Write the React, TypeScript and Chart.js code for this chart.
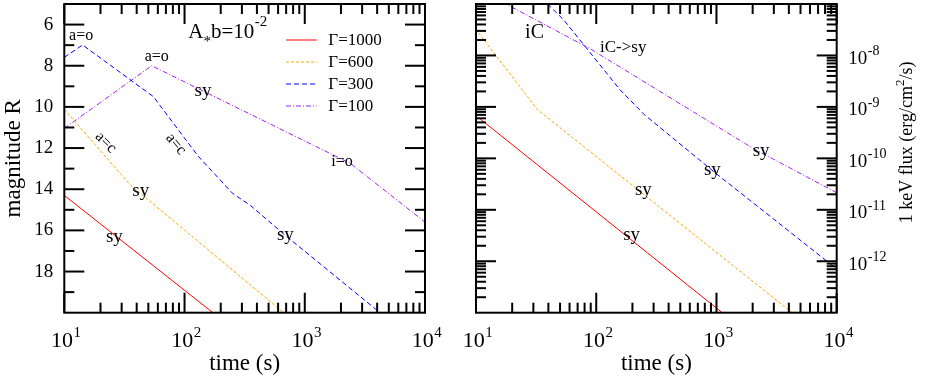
import React, { useEffect, useRef } from "react";
import { Chart, registerables } from "chart.js";

Chart.register(...registerables);
Chart.defaults.color = "#000";

// ---------------- data ----------------
// shared
const seriesLabels = ["Γ=1000", "Γ=600", "Γ=300", "Γ=100"];
const timeTicks = [10, 100, 1000, 10000];
const magTicks = [6, 8, 10, 12, 14, 16, 18];
const fluxTicks = [1e-12, 1e-11, 1e-10, 1e-9, 1e-8];

// left panel: optical magnitude R vs time (s)
const optRedT = [10, 200];
const optRedMag = [14.3, 20.3];
const optOrangeT = [10, 35.5, 700];
const optOrangeMag = [10.12, 13.8, 20.1];
const optBlueT = [10, 14.2, 55, 130, 251, 355, 708, 5000];
const optBlueMag = [7.59, 6.99, 9.5, 12.4, 14.2, 14.8, 16.3, 20.35];
const optPurpleT = [10, 53.3, 2400, 10000];
const optPurpleMag = [11.04, 8.0, 12.75, 15.6];

// right panel: 1 keV flux vs time (s)
const xRedT = [10.5, 1500];
const xRedF = [6.17e-10, 5.75e-14];
const xOrangeT = [10.5, 32.5, 5000];
const xOrangeF = [2.75e-8, 8.8e-10, 7.4e-14];
const xBlueT = [31.6, 53.7, 158, 251, 1000, 10000];
const xBlueF = [1.66e-7, 4.9e-8, 2.14e-9, 7.08e-10, 5.0e-11, 7.08e-13];
const xPurpleT = [10, 89, 2000, 10000];
const xPurpleF = [2.04e-7, 1.35e-8, 1.58e-10, 2.14e-11];

// text annotations (data coordinates)
type Ann = { text: string; t: number; v: number; size: number; align?: CanvasTextAlign; angle?: number; mid?: boolean };
const optAnnotations: Ann[] = [
  { text: "a=o", t: 13.8, v: 6.75, size: 16 },
  { text: "a=o", t: 58.8, v: 7.79, size: 16 },
  { text: "sy", t: 142.6, v: 9.49, size: 19 },
  { text: "a=c", t: 22.1, v: 11.73, size: 16, angle: 45, mid: true },
  { text: "a=c", t: 84.7, v: 11.81, size: 16, angle: 50, mid: true },
  { text: "sy", t: 43.2, v: 14.33, size: 19 },
  { text: "sy", t: 26.1, v: 16.56, size: 19 },
  { text: "sy", t: 690, v: 16.47, size: 19 },
  { text: "i=o", t: 2042, v: 12.87, size: 16 },
];
const xrayAnnotations: Ann[] = [
  { text: "iC", t: 30.7, v: 2.18e-8, size: 20 },
  { text: "iC->sy", t: 107.6, v: 1.17e-8, size: 17, align: "left" },
  { text: "sy", t: 2350, v: 1.11e-10, size: 19 },
  { text: "sy", t: 925, v: 4.74e-11, size: 19 },
  { text: "sy", t: 246.6, v: 1.94e-11, size: 19 },
  { text: "sy", t: 197, v: 2.59e-12, size: 19 },
];

// ---------------- styles ----------------
const SERIF = '"Liberation Serif", "DejaVu Serif", "Times New Roman", serif';
const STYLES = [
  { color: "#ff0000", dash: [] as number[] },
  { color: "#ffa500", dash: [3, 2] },
  { color: "#0000ff", dash: [5, 3] },
  { color: "#a020f0", dash: [5, 2, 1, 2] },
];
const H = 382;
const MAJOR = 20;
const MINOR = 10;

function mkDataset(i: number, t: number[], v: number[]) {
  return {
    label: seriesLabels[i],
    data: t.map((x, k) => ({ x, y: v[k] })),
    borderColor: STYLES[i].color,
    backgroundColor: STYLES[i].color,
    borderDash: STYLES[i].dash,
    borderWidth: 1,
    pointRadius: 0,
    tension: 0,
    fill: false,
  };
}

function seg(ctx: CanvasRenderingContext2D, x1: number, y1: number, x2: number, y2: number) {
  ctx.beginPath();
  ctx.moveTo(x1, y1);
  ctx.lineTo(x2, y2);
  ctx.stroke();
}

function zeroPad(s: any) {
  s.paddingLeft = 0;
  s.paddingRight = 0;
  s.paddingTop = 0;
  s.paddingBottom = 0;
}

const X_TICK_SIZE = 22;
const X_TICK_PAD = 15.8;
const X_LABEL_OFF = -2.3;

function timeAxis() {
  return {
    type: "logarithmic" as const,
    min: 10,
    max: 10000,
    position: "bottom" as const,
    grid: { display: false, drawTicks: false },
    border: { display: false },
    afterBuildTicks: (s: any) => {
      s.ticks = timeTicks.map((v) => ({ value: v }));
    },
    afterFit: (s: any) => {
      s.height = 69.3;
      zeroPad(s);
    },
    ticks: {
      callback: () => "10",
      autoSkip: false,
      maxRotation: 0,
      minRotation: 0,
      padding: X_TICK_PAD,
      labelOffset: X_LABEL_OFF,
      color: "#000",
      font: { family: SERIF, size: X_TICK_SIZE },
    },
    title: {
      display: true,
      text: "time (s)",
      color: "#000",
      font: { family: SERIF, size: 23 },
      padding: { top: 0, bottom: 4 },
    },
  };
}

function drawCommon(chart: any, anns: Ann[]) {
  const ctx: CanvasRenderingContext2D = chart.ctx;
  const a = chart.chartArea;
  const xs = chart.scales.x;
  const ys = chart.scales.y;
  ctx.save();
  ctx.strokeStyle = "#000";
  ctx.fillStyle = "#000";
  ctx.lineWidth = 2;
  ctx.setLineDash([]);
  // time ticks, bottom and top
  for (let e = 1; e <= 4; e++) {
    for (let k = 1; k <= 9; k++) {
      const v = k * Math.pow(10, e);
      if (v > 10000) break;
      const px = xs.getPixelForValue(v);
      const len = k === 1 ? MAJOR : MINOR;
      seg(ctx, px, a.bottom, px, a.bottom - len);
      seg(ctx, px, a.top, px, a.top + len);
    }
  }
  // exponents of time labels
  const baseCenterY = xs.top + X_TICK_PAD + (X_TICK_SIZE * 1.2) / 2;
  ctx.font = `${X_TICK_SIZE}px ${SERIF}`;
  const w10 = ctx.measureText("10").width;
  ctx.font = `15px ${SERIF}`;
  ctx.textAlign = "left";
  ctx.textBaseline = "middle";
  timeTicks.forEach((v) => {
    const px = xs.getPixelForValue(v) + X_LABEL_OFF;
    ctx.fillText(String(Math.round(Math.log10(v))), px + w10 / 2 + 0.5, baseCenterY - 8.4);
  });
  // annotations
  anns.forEach((an) => {
    const px = xs.getPixelForValue(an.t);
    const py = ys.getPixelForValue(an.v);
    ctx.save();
    ctx.font = `${an.size}px ${SERIF}`;
    ctx.textAlign = an.align || "center";
    ctx.textBaseline = an.mid ? "middle" : "alphabetic";
    ctx.translate(px, py);
    if (an.angle) ctx.rotate((an.angle * Math.PI) / 180);
    ctx.fillText(an.text, 0, 0);
    ctx.restore();
  });
  // frame
  ctx.lineWidth = 2;
  ctx.strokeRect(a.left, a.top, a.right - a.left, a.bottom - a.top);
  ctx.restore();
}

const leftPlugin = {
  id: "leftDecor",
  afterDraw(chart: any) {
    const ctx: CanvasRenderingContext2D = chart.ctx;
    const a = chart.chartArea;
    const ys = chart.scales.y;
    ctx.save();
    ctx.strokeStyle = "#000";
    ctx.fillStyle = "#000";
    ctx.lineWidth = 2;
    for (let m = 6; m <= 19; m++) {
      const py = ys.getPixelForValue(m);
      const len = m % 2 === 0 ? MAJOR : MINOR;
      seg(ctx, a.left, py, a.left + len, py);
      seg(ctx, a.right, py, a.right - len, py);
    }
    // title A*b=10^-2
    let x = a.left + 124;
    const base = a.top + 33.5;
    ctx.textAlign = "left";
    ctx.textBaseline = "alphabetic";
    ctx.font = `21px ${SERIF}`;
    ctx.fillText("A", x, base);
    x += ctx.measureText("A").width;
    ctx.font = `15px ${SERIF}`;
    ctx.fillText("*", x, base + 8.5);
    x += ctx.measureText("*").width;
    ctx.font = `21px ${SERIF}`;
    ctx.fillText("b=10", x, base);
    x += ctx.measureText("b=10").width;
    ctx.font = `15px ${SERIF}`;
    ctx.fillText("-2", x + 0.5, base - 11.5);
    // legend
    ctx.font = `17px ${SERIF}`;
    ctx.textBaseline = "middle";
    seriesLabels.forEach((lab, i) => {
      const ry = a.top + 36 + 22 * i;
      ctx.strokeStyle = STYLES[i].color;
      ctx.lineWidth = 1;
      ctx.setLineDash(STYLES[i].dash);
      seg(ctx, a.left + 221.7, ry, a.left + 252.4, ry);
      ctx.setLineDash([]);
      ctx.fillText(lab, a.left + 264, ry + 0.5);
    });
    ctx.restore();
    drawCommon(chart, optAnnotations);
  },
};

const Y_TICK_PAD_R = 11.6;
const Y_TICK_SIZE_R = 19;
const Y_LABEL_OFF_R = 3.3;

const rightPlugin = {
  id: "rightDecor",
  afterDraw(chart: any) {
    const ctx: CanvasRenderingContext2D = chart.ctx;
    const a = chart.chartArea;
    const ys = chart.scales.y;
    ctx.save();
    ctx.strokeStyle = "#000";
    ctx.fillStyle = "#000";
    ctx.lineWidth = 2;
    for (let e = -13; e <= -8; e++) {
      for (let k = 1; k <= 9; k++) {
        const v = k * Math.pow(10, e);
        if (v <= 1.0001e-13 || v >= 0.9999e-7) continue;
        const py = ys.getPixelForValue(v);
        const len = k === 1 ? MAJOR : MINOR;
        seg(ctx, a.left, py, a.left + len, py);
        seg(ctx, a.right, py, a.right - len, py);
      }
    }
    // exponents of flux labels
    ctx.font = `${Y_TICK_SIZE_R}px ${SERIF}`;
    const w10 = ctx.measureText("10").width;
    ctx.font = `14px ${SERIF}`;
    ctx.textAlign = "left";
    ctx.textBaseline = "middle";
    fluxTicks.forEach((v) => {
      const py = ys.getPixelForValue(v) + Y_LABEL_OFF_R;
      ctx.fillText(String(Math.round(Math.log10(v))), ys.left + Y_TICK_PAD_R + w10 + 0.5, py - 7.2);
    });
    // right axis title, reading upward
    const p1 = "1 keV flux (erg/cm";
    const p2 = "2";
    const p3 = "/s)";
    ctx.font = `18px ${SERIF}`;
    const w1 = ctx.measureText(p1).width;
    const w3 = ctx.measureText(p3).width;
    ctx.font = `13px ${SERIF}`;
    const w2 = ctx.measureText(p2).width;
    const total = w1 + w2 + w3;
    ctx.translate(a.right + 75, (a.top + a.bottom) / 2 - 16);
    ctx.rotate(-Math.PI / 2);
    ctx.textBaseline = "alphabetic";
    let x = -total / 2;
    ctx.font = `18px ${SERIF}`;
    ctx.fillText(p1, x, 0);
    x += w1;
    ctx.font = `13px ${SERIF}`;
    ctx.fillText(p2, x, -8);
    x += w2;
    ctx.font = `18px ${SERIF}`;
    ctx.fillText(p3, x, 0);
    ctx.restore();
    drawCommon(chart, xrayAnnotations);
  },
};

function buildLeft(): any {
  return {
    type: "line",
    data: {
      datasets: [
        mkDataset(0, optRedT, optRedMag),
        mkDataset(1, optOrangeT, optOrangeMag),
        mkDataset(2, optBlueT, optBlueMag),
        mkDataset(3, optPurpleT, optPurpleMag),
      ],
    },
    options: {
      responsive: false,
      animation: false,
      layout: { padding: { top: 4, right: 35, left: 0, bottom: 0 } },
      plugins: { legend: { display: false }, tooltip: { enabled: false } },
      scales: {
        x: timeAxis(),
        y: {
          type: "linear",
          reverse: true,
          min: 5,
          max: 20,
          position: "left",
          grid: { display: false, drawTicks: false },
          border: { display: false },
          afterBuildTicks: (s: any) => {
            s.ticks = magTicks.map((v) => ({ value: v }));
          },
          afterFit: (s: any) => {
            s.width = 64.3;
            zeroPad(s);
          },
          ticks: {
            callback: (v: any) => String(v),
            padding: 11,
            color: "#000",
            font: { family: SERIF, size: 19 },
          },
          title: {
            display: true,
            text: "magnitude R",
            color: "#000",
            font: { family: SERIF, size: 23 },
            padding: { top: 0, bottom: 0 },
          },
        },
      },
    },
    plugins: [leftPlugin],
  };
}

function buildRight(): any {
  return {
    type: "line",
    data: {
      datasets: [
        mkDataset(0, xRedT, xRedF),
        mkDataset(1, xOrangeT, xOrangeF),
        mkDataset(2, xBlueT, xBlueF),
        mkDataset(3, xPurpleT, xPurpleF),
      ],
    },
    options: {
      responsive: false,
      animation: false,
      layout: { padding: { top: 4, right: 0, left: 16, bottom: 0 } },
      plugins: { legend: { display: false }, tooltip: { enabled: false } },
      scales: {
        x: timeAxis(),
        y: {
          type: "logarithmic",
          min: 1e-13,
          max: 1e-7,
          position: "right",
          grid: { display: false, drawTicks: false },
          border: { display: false },
          afterBuildTicks: (s: any) => {
            s.ticks = fluxTicks.map((v) => ({ value: v }));
          },
          afterFit: (s: any) => {
            s.width = 89.3;
            zeroPad(s);
          },
          ticks: {
            callback: () => "10",
            padding: Y_TICK_PAD_R,
            labelOffset: Y_LABEL_OFF_R,
            autoSkip: false,
            color: "#000",
            font: { family: SERIF, size: Y_TICK_SIZE_R },
          },
        },
      },
    },
    plugins: [rightPlugin],
  };
}

function Panel({ build, left, width }: { build: () => any; left: number; width: number }) {
  const ref = useRef<HTMLCanvasElement>(null);
  useEffect(() => {
    const chart = new Chart(ref.current as HTMLCanvasElement, build());
    return () => chart.destroy();
  }, []);
  return (
    <canvas
      ref={ref}
      width={width}
      height={H}
      style={{ position: "absolute", left, top: 0, width, height: H }}
    />
  );
}

export default function App() {
  return (
    <div style={{ position: "fixed", left: 0, top: 0, width: 926, height: H, background: "#fff" }}>
      <Panel build={buildLeft} left={0} width={460} />
      <Panel build={buildRight} left={460} width={466} />
    </div>
  );
}
